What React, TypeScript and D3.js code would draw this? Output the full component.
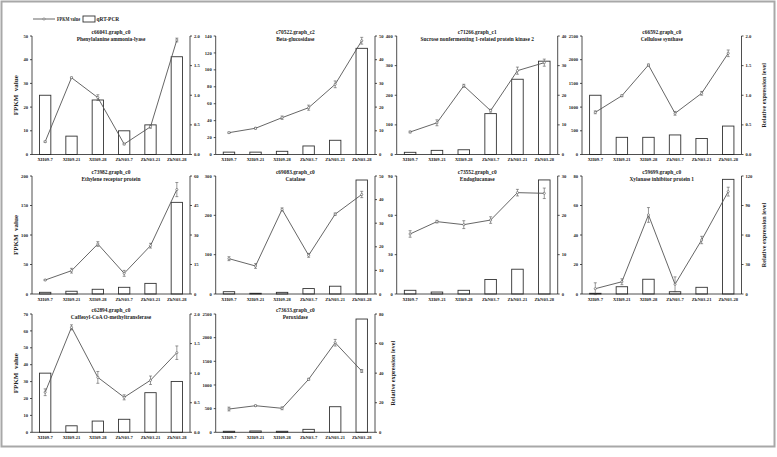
import * as d3 from 'd3';

const samples = ['XH09-7', 'XH09-21', 'XH09-28', 'ZkN03-7', 'ZkN03-21', 'ZkN03-28'];

// c66041 Phenylalanine ammonia-lyase
const palFpkm = [5.4, 32.4, 24.0, 4.4, 11.7, 48.3];
const palErr = [0.3, 0.3, 1.2, 0.3, 0.6, 0.8];
const palQpcr = [1.0, 0.31, 0.92, 0.4, 0.5, 1.65];
const palLeft = [0, 10, 20, 30, 40, 50];
const palRight = [0, 0.5, 1.0, 1.5, 2.0];

// c70522 Beta-glucosidase
const bglFpkm = [25.8, 31.0, 43.5, 55.3, 82.9, 134.4];
const bglErr = [0.8, 1, 2, 3, 4, 4];
const bglQpcr = [1.0, 1.0, 1.35, 3.6, 6.0, 44.8];
const bglLeft = [0, 20, 40, 60, 80, 100, 120, 140];
const bglRight = [0, 10, 20, 30, 40, 50];

// c71266 SnRK2
const snrFpkm = [76, 107, 232, 148, 283, 310];
const snrErr = [3, 10, 5, 5, 12, 12];
const snrQpcr = [0.74, 1.4, 1.6, 13.8, 25.4, 31.5];
const snrLeft = [0, 100, 200, 300, 400];
const snrRight = [0, 10, 20, 30, 40];

// c66592 Cellulose synthase
const cesFpkm = [890, 1240, 1888, 869, 1291, 2135];
const cesErr = [30, 20, 20, 40, 40, 70];
const cesQpcr = [1.0, 0.29, 0.29, 0.33, 0.27, 0.48];
const cesLeft = [0, 500, 1000, 1500, 2000, 2500];
const cesRight = [0, 0.5, 1.0, 1.5, 2.0];

// c73982 Ethylene receptor protein
const etrFpkm = [23.7, 39.5, 84.7, 35, 81.9, 177];
const etrErr = [1, 4, 4, 5, 4, 12];
const etrQpcr = [0.86, 1.4, 2.4, 3.4, 5.4, 46.6];
const etrLeft = [0, 50, 100, 150, 200];
const etrRight = [0, 15, 30, 45, 60];

// c69083 Catalase
const catFpkm = [89.8, 71.2, 215, 98.3, 203, 253];
const catErr = [5, 6, 4, 5, 3, 8];
const catQpcr = [0.98, 0.3, 0.7, 2.3, 3.3, 48.3];
const catLeft = [0, 100, 200, 300];
const catRight = [0, 10, 20, 30, 40, 50];

// c73552 Endoglucanase
const egFpkm = [45.8, 55.2, 52.9, 56.4, 77.3, 76.8];
const egErr = [2.5, 1, 3, 2.5, 2.5, 4];
const egQpcr = [0.94, 0.5, 0.94, 3.7, 6.3, 29];
const egLeft = [0, 30, 60, 90];
const egRight = [0, 10, 20, 30];

// c59699 Xylanase inhibitor protein 1
const xipFpkm = [3.6, 8.3, 53.6, 6.6, 36.6, 69.4];
const xipErr = [4, 2, 5, 5, 2.5, 3];
const xipQpcr = [0.7, 7.4, 15, 2.3, 6.8, 116.6];
const xipLeft = [0, 20, 40, 60, 80];
const xipRight = [0, 30, 60, 90, 120];

// c62894 Caffeoyl-CoA O-methyltransferase
const ccoFpkm = [23.7, 62.1, 32.5, 20.7, 30.8, 47.1];
const ccoErr = [2, 1.5, 3.5, 1.5, 2.5, 4];
const ccoQpcr = [1.0, 0.11, 0.19, 0.22, 0.67, 0.86];
const ccoLeft = [0, 10, 20, 30, 40, 50, 60, 70];
const ccoRight = [0, 0.5, 1.0, 1.5, 2.0];

// c73633 Peroxidase
const podFpkm = [492, 562, 507, 1120, 1893, 1295];
const podErr = [40, 15, 30, 20, 70, 30];
const podQpcr = [0.7, 0.9, 0.7, 2.0, 17.3, 76.6];
const podLeft = [0, 500, 1000, 1500, 2000, 2500];
const podRight = [0, 20, 40, 60, 80];

const panels = [
  { id: 'c66041.graph_c0', name: 'Phenylalanine ammonia-lyase', fpkm: palFpkm, err: palErr, qpcr: palQpcr, left: palLeft, right: palRight },
  { id: 'c70522.graph_c2', name: 'Beta-glucosidase', fpkm: bglFpkm, err: bglErr, qpcr: bglQpcr, left: bglLeft, right: bglRight },
  { id: 'c71266.graph_c1', name: 'Sucrose nonfermenting 1-related protein kinase 2', fpkm: snrFpkm, err: snrErr, qpcr: snrQpcr, left: snrLeft, right: snrRight },
  { id: 'c66592.graph_c0', name: 'Cellulose synthase', fpkm: cesFpkm, err: cesErr, qpcr: cesQpcr, left: cesLeft, right: cesRight },
  { id: 'c73982.graph_c0', name: 'Ethylene receptor protein', fpkm: etrFpkm, err: etrErr, qpcr: etrQpcr, left: etrLeft, right: etrRight },
  { id: 'c69083.graph_c0', name: 'Catalase', fpkm: catFpkm, err: catErr, qpcr: catQpcr, left: catLeft, right: catRight },
  { id: 'c73552.graph_c0', name: 'Endoglucanase', fpkm: egFpkm, err: egErr, qpcr: egQpcr, left: egLeft, right: egRight },
  { id: 'c59699.graph_c0', name: 'Xylanase inhibitor protein 1', fpkm: xipFpkm, err: xipErr, qpcr: xipQpcr, left: xipLeft, right: xipRight },
  { id: 'c62894.graph_c0', name: 'Caffeoyl-CoA O-methyltransferase', fpkm: ccoFpkm, err: ccoErr, qpcr: ccoQpcr, left: ccoLeft, right: ccoRight },
  { id: 'c73633.graph_c0', name: 'Peroxidase', fpkm: podFpkm, err: podErr, qpcr: podQpcr, left: podLeft, right: podRight },
];

const W = 777;
const H = 457;
const colX = [[32, 190], [215.7, 375], [396.7, 557.7], [582, 741.5]];
const rowY = [[36, 154.5], [176, 294], [314, 432.3]];
const FONT = '"Liberation Serif", "Times New Roman", serif';
const INK = '#222';
const LINE = '#555';

function PanelChart({ p, i }) {
  const r = Math.floor(i / 4);
  const c = i % 4;
  const [x0, x1] = colX[c];
  const [yTop, yBot] = rowY[r];

  const x = d3.scalePoint().domain(samples).range([x0, x1]).padding(0.5);
  const barW = x.step() * 0.43;
  const yL = d3.scaleLinear().domain([0, d3.max(p.left)]).range([yBot, yTop]);
  const yR = d3.scaleLinear().domain([0, d3.max(p.right)]).range([yBot, yTop]);
  const fmtR = d3.max(p.right) <= 2 ? d3.format('.1f') : d3.format('d');

  const line = d3
    .line()
    .x((d, k) => x(samples[k]))
    .y((d) => yL(d));

  return (
    <g>
      {/* bars: qRT-PCR */}
      {p.qpcr.map((v, k) => (
        <rect
          key={'b' + k}
          x={x(samples[k]) - barW / 2}
          y={yR(v)}
          width={barW}
          height={yBot - yR(v)}
          fill="#fff"
          stroke="#333"
          strokeWidth={0.9}
        />
      ))}

      {/* line: FPKM */}
      <path d={line(p.fpkm)} fill="none" stroke={LINE} strokeWidth={0.9} />
      {p.fpkm.map((v, k) => {
        const cx = x(samples[k]);
        const e = p.err[k];
        return (
          <g key={'e' + k} stroke={LINE} strokeWidth={0.6}>
            <line x1={cx} x2={cx} y1={yL(v - e)} y2={yL(v + e)} />
            <line x1={cx - 1.5} x2={cx + 1.5} y1={yL(v - e)} y2={yL(v - e)} />
            <line x1={cx - 1.5} x2={cx + 1.5} y1={yL(v + e)} y2={yL(v + e)} />
            <circle cx={cx} cy={yL(v)} r={1.1} fill="#fff" />
          </g>
        );
      })}

      {/* axes */}
      <g stroke={INK} strokeWidth={0.8}>
        <line x1={x0} x2={x0} y1={yTop} y2={yBot} />
        <line x1={x1} x2={x1} y1={yTop} y2={yBot} />
        <line x1={x0} x2={x1} y1={yBot} y2={yBot} />
        {p.left.map((t) => (
          <line key={'lt' + t} x1={x0 - 2} x2={x0} y1={yL(t)} y2={yL(t)} />
        ))}
        {p.right.map((t) => (
          <line key={'rt' + t} x1={x1} x2={x1 + 2} y1={yR(t)} y2={yR(t)} />
        ))}
      </g>
      <g fontFamily={FONT} fontWeight="bold" fontSize={4.6} fill={INK}>
        {p.left.map((t) => (
          <text key={'ll' + t} x={x0 - 4} y={yL(t)} dy="0.35em" textAnchor="end">
            {t}
          </text>
        ))}
        {p.right.map((t) => (
          <text key={'rl' + t} x={x1 + 4} y={yR(t)} dy="0.35em" textAnchor="start">
            {fmtR(t)}
          </text>
        ))}
        {samples.map((s) => (
          <text key={'xl' + s} x={x(s)} y={yBot + 6.6} textAnchor="middle">
            {s}
          </text>
        ))}
      </g>
      <g fontFamily={FONT} fontWeight="bold" fontSize={5.4} fill={INK} textAnchor="middle">
        <text x={(x0 + x1) / 2} y={yTop - 2.2}>
          {p.id}
        </text>
        <text x={(x0 + x1) / 2} y={yTop + 5}>
          {p.name}
        </text>
      </g>
    </g>
  );
}

export default function App() {
  const rowMid = rowY.map(([a, b]) => (a + b) / 2);
  return (
    <svg
      width={W}
      height={H}
      style={{ position: 'absolute', left: 0, top: 0, background: '#fff' }}
    >
      <rect x={0} y={0} width={W} height={H} fill="#fff" />
      <rect x={1.5} y={1.5} width={773} height={445} fill="none" stroke="#a8a8a8" strokeWidth={2} />

      {/* legend */}
      <g fontFamily={FONT} fontWeight="bold" fontSize={5.4} fill={INK}>
        <line x1={33} x2={55} y1={19} y2={19} stroke={LINE} strokeWidth={0.9} />
        <circle cx={44} cy={19} r={1.1} fill="#fff" stroke={LINE} strokeWidth={0.6} />
        <text x={57} y={21} textLength={23} lengthAdjust="spacingAndGlyphs">
          FPKM value
        </text>
        <rect x={83} y={16} width={12} height={6} fill="#fff" stroke="#333" strokeWidth={0.9} />
        <text x={96.5} y={21}>qRT-PCR</text>
      </g>

      {panels.map((p, i) => (
        <PanelChart key={p.id} p={p} i={i} />
      ))}

      {/* axis titles */}
      <g fontFamily={FONT} fontWeight="bold" fontSize={7} fill={INK} textAnchor="middle">
        {rowMid.map((m, k) => (
          <text key={'fp' + k} transform={`translate(15.5,${m}) rotate(-90)`} dy="0.35em">
            FPKM&#160;&#160;value
          </text>
        ))}
      </g>
      <g fontFamily={FONT} fontWeight="bold" fontSize={6.2} fill={INK} textAnchor="middle">
        <text transform={`translate(763.5,${rowMid[0]}) rotate(-90)`} dy="0.35em">
          Relative expression level
        </text>
        <text transform={`translate(763.5,${rowMid[1]}) rotate(-90)`} dy="0.35em">
          Relative expression level
        </text>
        <text transform={`translate(393,${rowMid[2]}) rotate(-90)`} dy="0.35em">
          Relative expression level
        </text>
      </g>
    </svg>
  );
}
